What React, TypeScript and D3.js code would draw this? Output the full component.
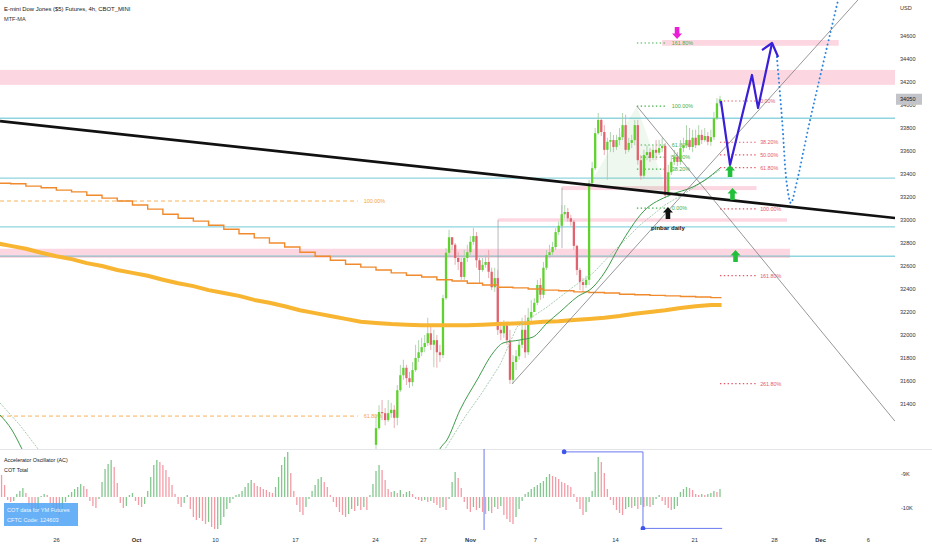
import { useEffect, useRef } from "react";
import * as d3 from "d3";

// 4h bars, bar 0 = Oct 24 session. open of each bar = previous close
const firstOpen = 31045;
const closes = [
  31190, 31330, 31320, 31260, 31320, 31350, 31280, 31520, 31650, 31715,
  31625, 31590, 31695, 31800, 31850, 31895, 31930, 32015, 31915, 31955,
  31850, 31825, 32320, 32715, 32850, 32785, 32670, 32635, 32505, 32670,
  32720, 32810, 32860, 32650, 32565, 32610, 32635, 32550, 32415, 32495,
  32045, 32015, 32085, 31955, 31610, 31765, 31815, 31915, 32045, 31850,
  32150, 32200, 32280, 32435, 32350, 32585, 32695, 32720, 32765, 32895,
  32950, 33050, 33070, 33015, 32985, 32775, 32565, 32460, 32435, 32480,
  33320, 33450, 33755, 33870, 33765, 33610, 33680, 33695, 33635, 33695,
  33720, 33825, 33610, 33670, 33695, 33825, 33520, 33385, 33565, 33590,
  33540, 33610, 33585, 33625, 33645, 33215, 33415, 33505, 33550, 33505,
  33625, 33650, 33695, 33635, 33715, 33650, 33740, 33695, 33730, 33680,
  33720, 33885, 34015, 34050,
];
const highs = [
  31305, 31390, 31435, 31365, 31435, 31410, 31390, 31565, 31740, 31785,
  31740, 31680, 31765, 31915, 31955, 31975, 32000, 32150, 32085, 32045,
  32000, 31915, 32350, 32755, 32915, 32845, 32800, 32720, 32670, 32740,
  32785, 32860, 32930, 32895, 32670, 32670, 32695, 32740, 32585, 32585,
  32565, 32115, 32130, 32115, 32045, 31825, 31870, 31955, 32150, 32175,
  32235, 32305, 32320, 32480, 32495, 32635, 32740, 32785, 32810, 32930,
  32985, 33130, 33130, 33105, 33045, 33000, 32785, 32585, 32495, 32515,
  33350, 33505, 33800, 33930, 33885, 33825, 33715, 33765, 33740, 33740,
  33800, 33930, 33915, 33715, 33740, 33870, 33870, 33565, 33610, 33650,
  33625, 33650, 33695, 33695, 33715, 33670, 33480, 33565, 33610, 33590,
  33695, 33715, 33825, 33800, 33785, 33785, 33825, 33785, 33800, 33765,
  33785, 33940, 34060, 34080,
];
const lows = [
  31000, 31175, 31260, 31215, 31245, 31280, 31190, 31215, 31505, 31610,
  31565, 31540, 31555, 31680, 31765, 31815, 31850, 31905, 31870, 31720,
  31715, 31765, 31800, 32305, 32685, 32740, 32610, 32565, 32480, 32480,
  32635, 32695, 32785, 32585, 32450, 32550, 32585, 32495, 32390, 32375,
  32000, 31955, 31975, 31915, 31575, 31575, 31695, 31785, 31885, 31800,
  31825, 32115, 32200, 32260, 32305, 32320, 32565, 32670, 32695, 32740,
  32870, 32930, 33015, 32985, 32950, 32740, 32520, 32390, 32375, 32410,
  32435, 33315, 33435, 33740, 33730, 33565, 33350, 33590, 33590, 33610,
  33650, 33695, 33575, 33590, 33625, 33650, 33480, 33350, 33365, 33520,
  33505, 33520, 33520, 33565, 33590, 33190, 33200, 33390, 33480, 33470,
  33480, 33590, 33625, 33610, 33590, 33625, 33650, 33660, 33680, 33650,
  33645, 33695, 33870, 33990,
];

// MTF-MA (daily steps), one value every 5 bars from bar -125
const mtfStart = -125;
const mtfStep = 5;
const maOrange = [
  33320, 33315, 33295, 33280, 33260, 33245, 33215, 33190, 33165, 33130,
  33095, 33050, 33015, 32990, 32955, 32920, 32880, 32845, 32800, 32765,
  32720, 32685, 32650, 32615, 32590, 32565, 32540, 32520, 32505, 32480,
  32470, 32450, 32435, 32415, 32410, 32400, 32390, 32385, 32375, 32370,
  32365, 32355, 32350, 32345, 32340, 32335, 32330, 32325,
];
const maGold = [
  32800, 32775, 32750, 32715, 32685, 32660, 32625, 32600, 32565, 32540,
  32515, 32480, 32450, 32425, 32390, 32365, 32340, 32305, 32280, 32250,
  32215, 32190, 32165, 32140, 32115, 32105, 32095, 32090, 32085, 32085,
  32085, 32085, 32090, 32095, 32100, 32105, 32115, 32120, 32130, 32140,
  32150, 32165, 32185, 32200, 32215, 32235, 32250, 32260,
];

// 4h MAs, [bar, price] (visible parts only)
const maGreenLeft = [[-123.5, 31304], [-119.6, 31174], [-116.3, 31009], [-113, 30826]];
const maGreenRight = [
  [18.4, 30826], [21, 31009], [23.3, 31087], [27.6, 31348], [33.2, 31609], [38.4, 31843],
  [41.7, 31930], [47.3, 31957], [51.6, 31983], [56.2, 32104], [60.4, 32200], [66, 32330],
  [71.3, 32417], [75.2, 32548], [80.2, 32783], [87.7, 33070], [96.6, 33217], [104.1, 33287],
  [108.1, 33348], [113, 33452],
];
const maLightLeft = [[-123.5, 31409], [-117, 31217], [-111, 31009], [-108.7, 30826]];
const maLightRight = [
  [18.4, 30826], [22.7, 31009], [29.2, 31287], [34.8, 31496], [40.7, 31739], [46.3, 32070],
  [56.2, 32243], [64.7, 32417], [71.3, 32539], [78.5, 32739], [86.7, 32956], [94.9, 33130],
  [103.2, 33261], [113, 33435],
];

// Accelerator Oscillator, one value per bar from bar -123
const acStart = -123;
const acValues = [
  220, 120, -30, -50, -40, 30, 60, 90, 40, -80,
  -130, -150, -120, 10, 30, 20, -60, -120, -160, -180,
  -140, -50, 20, 50, 80, 100, 130, 110, 80, -40,
  -90, -110, -20, 150, 280, 330, 370, 300, 140, -60,
  -110, -90, 20, 40, -40, -80, -100, -70, 60, 200,
  320, 370, 350, 320, 270, 200, 120, 30, -70, -100,
  -60, 20, -120, -200, -230, -210, -240, -270, -250, -300,
  -320, -320, -280, -200, -120, -60, -20, 20, 30, 60,
  100, 140, 170, 140, 110, 100, 80, 70, 50, 40,
  100, 200, 320, 400, 450, 240, 60, -80, -150, -180,
  -100, -20, 60, 120, 180, 200, 150, 100, 20, -50,
  -100, -150, -180, -200, -170, -120, -140, -90, -130, -100,
  -130, 20, 130, 260, 320, 270, 170, 80, 50, 60,
  40, 70, 30, 50, 60, 30, -20, -30, -40, -30,
  -50, -40, -60, -80, -110, -100, -130, -20, 150, 250,
  190, 90, -50, -120, -150, -100, -130, -110, -150, -170,
  -140, -160, -100, -120, -90, -180, -220, -250, -270, -200,
  -120, -40, 30, 50, 80, 100, 120, 140, 160, 200,
  230, 210, 200, 180, 150, 140, 120, 100, 30, -50,
  -120, -180, -150, -50, 60, 250, 400, 350, 240, 80,
  -30, -80, -130, -160, -180, -120, -100, -110, -90, -120,
  -80, -100, -90, -100, -80, -20, 20, -40, -80, -110,
  -130, -120, -90, 50, 80, 100, 90, 70, 30, 20,
  30, 20, 30, 40, 60, 50, 80,
];

// COT Total (weekly steps), [bar, value]
const cotSteps = [[-125, -11000], [35.5, -8000], [61.8, -8350], [87.7, -10600], [113.7, -10600]];
const cotMarks = [[61.8, -8350], [87.7, -10600]];

// horizontal levels and zones
const cyanLevels = [33885, 33365, 32940, 32685];
const zones = [
  { b0: -125, b1: 171, top: 34305, bottom: 34175 },
  { b0: 94, b1: 152, top: 34565, bottom: 34515 },
  { b0: -125, b1: 136, top: 32750, bottom: 32670 },
  { b0: 61, b1: 125, top: 33295, bottom: 33260 },
  { b0: 40, b1: 135, top: 33015, bottom: 32985 },
];
const zoneEdges = [
  { b: 40.1, p0: 33000, p1: 32390 },
  { b: 61.1, p0: 33280, p1: 32755 },
];
const oldFib = [
  { price: 33165, label: "100.00%" },
  { price: 31295, label: "61.80%" },
];

// fib drawings
const fibGreen = { b0: 85.7, b1: 95.5, p0: 33104, p1: 33991 };
const fibGreenLevels = [1.618, 1, 0.618, 0.5, 0.382, 0];
const fibRed = { b0: 113, b1: 125.2, p0: 34035, p1: 33096 };
const fibRedLevels = [0, 0.382, 0.5, 0.618, 1, 1.618, 2.618];

// trend lines
const blackTrend = [[-123.5, 33860], [170.5, 33017]];
const channelUp = [[44.7, 31575], [158.3, 34913]];
const channelDown = [[85.7, 33990], [170.5, 31250]];
const triangle = [[70.3, 33322], [85.7, 33991], [95.9, 33217]];
const zigzag = [[113.3, 34035], [116.3, 33478], [123.5, 34261], [125.5, 33974], [130.1, 34539]];
const zigzagHead = [[126.8, 34478], [130.1, 34539], [132.1, 34417]];
const dottedPath = [[131.7, 34417], [133.4, 33870], [135, 33304], [136.3, 33148], [138, 33304], [142.6, 33870], [151.8, 34913]];

const greenArrows = [[116.3, 33478], [117.1, 33278], [118.1, 32739]];
const blackArrow = [95.9, 33113];
const magentaArrow = [98.9, 34574];

const priceTicks = d3.range(31400, 34601, 200);
const dateTicks = [
  { bar: -105.1, label: "26" }, { bar: -78.8, label: "Oct", month: true },
  { bar: -52.9, label: "10" }, { bar: -26.6, label: "17" }, { bar: -0.3, label: "24" },
  { bar: 15.4, label: "27" }, { bar: 30.9, label: "Nov", month: true }, { bar: 52.2, label: "7" },
  { bar: 78.5, label: "14" }, { bar: 104.5, label: "21" }, { bar: 130.7, label: "28" },
  { bar: 145.9, label: "Dec", month: true }, { bar: 161.6, label: "6" },
];

const FONT = "'Liberation Sans', Arial, sans-serif";

export default function App() {
  const ref = useRef<SVGSVGElement>(null);

  useEffect(() => {
    if (!ref.current) return;
    const svg = d3.select(ref.current);
    svg.selectAll("*").remove();

    const W = 932, H = 550;
    const paneR = 895;
    const mainBottom = 449;
    const oscTop = 449, oscBottom = 530;

    const x = d3.scaleLinear().domain([0, 113]).range([376, 720]);
    const y = d3.scaleLinear().domain([31400, 34600]).range([404, 36]);
    const yAc = d3.scaleLinear().domain([-300, 400]).range([527, 457]);
    const yCot = d3.scaleLinear().domain([-10000, -9000]).range([508, 474]);

    svg.append("rect").attr("width", W).attr("height", H).attr("fill", "#fff");

    const defs = svg.append("defs");
    defs.append("clipPath").attr("id", "mainClip")
      .append("rect").attr("x", 0).attr("y", 0).attr("width", paneR).attr("height", mainBottom);
    defs.append("clipPath").attr("id", "oscClip")
      .append("rect").attr("x", 0).attr("y", oscTop).attr("width", paneR).attr("height", oscBottom - oscTop);

    const main = svg.append("g").attr("clip-path", "url(#mainClip)");
    const line = d3.line<number[]>().x((d) => x(d[0])).y((d) => y(d[1]));

    // zones
    main.selectAll(".zone").data(zones).join("rect")
      .attr("x", (d) => x(d.b0)).attr("width", (d) => x(d.b1) - x(d.b0))
      .attr("y", (d) => y(d.top)).attr("height", (d) => y(d.bottom) - y(d.top))
      .attr("fill", "rgba(242,54,107,0.2)");

    // cyan levels
    main.selectAll(".cyan").data(cyanLevels).join("line")
      .attr("x1", 0).attr("x2", paneR).attr("y1", (d) => y(d)).attr("y2", (d) => y(d))
      .attr("stroke", "#8fd5e0").attr("stroke-width", 1.3);
    main.append("line")
      .attr("x1", 0).attr("x2", x(136)).attr("y1", y(32685)).attr("y2", y(32685))
      .attr("stroke", "#b9b9bf").attr("stroke-width", 1.2);

    main.selectAll(".edge").data(zoneEdges).join("line")
      .attr("x1", (d) => x(d.b)).attr("x2", (d) => x(d.b))
      .attr("y1", (d) => y(d.p0)).attr("y2", (d) => y(d.p1))
      .attr("stroke", "#9a9aa0").attr("stroke-width", 0.7);

    // old orange fib levels
    oldFib.forEach((f) => {
      main.append("line").attr("x1", 0).attr("x2", x(-6)).attr("y1", y(f.price)).attr("y2", y(f.price))
        .attr("stroke", "#f7b25c").attr("stroke-width", 1).attr("stroke-dasharray", "4,3");
      main.append("text").attr("x", x(-4)).attr("y", y(f.price) + 2).attr("font-size", 5.4)
        .attr("font-family", FONT).attr("fill", "#f5a442").text(f.label);
    });

    // triangle shading
    main.append("path").attr("d", line(triangle) + "Z").attr("fill", "rgba(76,175,80,0.09)");

    // fib levels
    fibGreenLevels.forEach((r) => {
      const p = fibGreen.p0 + r * (fibGreen.p1 - fibGreen.p0);
      main.append("line").attr("x1", x(fibGreen.b0)).attr("x2", x(fibGreen.b1))
        .attr("y1", y(p)).attr("y2", y(p)).attr("stroke", "#3fae48").attr("stroke-width", 1.2)
        .attr("stroke-dasharray", "1.4,2.4");
      main.append("text").attr("x", x(fibGreen.b1) + 5).attr("y", y(p) + 2).attr("font-size", 5.4)
        .attr("font-family", FONT).attr("fill", "#43b04b").text(`${(r * 100).toFixed(2)}%`);
    });
    fibRedLevels.forEach((r) => {
      const p = fibRed.p0 + r * (fibRed.p1 - fibRed.p0);
      main.append("line").attr("x1", x(fibRed.b0)).attr("x2", x(fibRed.b1))
        .attr("y1", y(p)).attr("y2", y(p)).attr("stroke", "#e45a6b").attr("stroke-width", 1.2)
        .attr("stroke-dasharray", "1.4,2.4");
      main.append("text").attr("x", x(fibRed.b1) + 3).attr("y", y(p) + 2).attr("font-size", 5.4)
        .attr("font-family", FONT).attr("fill", "#e45a6b").text(`${(r * 100).toFixed(2)}%`);
    });

    // candles
    const bars = closes.map((c, i) => {
      const o = i === 0 ? firstOpen : closes[i - 1];
      return { i, o, c, h: Math.max(highs[i], o, c), l: Math.min(lows[i], o, c) };
    });
    const cg = main.append("g");
    cg.selectAll(".wick").data(bars).join("line")
      .attr("x1", (d) => x(d.i)).attr("x2", (d) => x(d.i))
      .attr("y1", (d) => y(d.h)).attr("y2", (d) => y(d.l))
      .attr("stroke", (d) => (d.c >= d.o ? "#a8cfa8" : "#e5a5aa")).attr("stroke-width", 0.9);
    cg.selectAll(".body").data(bars).join("rect")
      .attr("x", (d) => x(d.i) - 1.15).attr("width", 2.3)
      .attr("y", (d) => y(Math.max(d.o, d.c)))
      .attr("height", (d) => Math.max(1, Math.abs(y(d.o) - y(d.c))))
      .attr("fill", (d) => (d.c >= d.o ? "#5fd22e" : "#e0636f"));

    // moving averages
    const stepLine = d3.line<number[]>().x((d) => x(d[0])).y((d) => y(d[1])).curve(d3.curveStepAfter);
    const mtfPts = (vals: number[]) => {
      const pts = vals.map((v, i) => [mtfStart + i * mtfStep, v]);
      pts.push([113.5, vals[vals.length - 1]]);
      return pts;
    };
    main.append("path").attr("d", line(mtfPts(maGold))).attr("fill", "none")
      .attr("stroke", "#f7b532").attr("stroke-width", 4).attr("stroke-linejoin", "round");
    main.append("path").attr("d", stepLine(mtfPts(maOrange))).attr("fill", "none")
      .attr("stroke", "#f08a2c").attr("stroke-width", 1.4);
    [maLightLeft, maLightRight].forEach((seg) =>
      main.append("path").attr("d", line(seg)).attr("fill", "none")
        .attr("stroke", "#a9cdb2").attr("stroke-width", 1).attr("stroke-dasharray", "2,1.2"));
    const smooth = d3.line<number[]>().x((d) => x(d[0])).y((d) => y(d[1])).curve(d3.curveMonotoneX);
    [maGreenLeft, maGreenRight].forEach((seg) =>
      main.append("path").attr("d", smooth(seg)).attr("fill", "none")
        .attr("stroke", "#3d9b49").attr("stroke-width", 1));

    // drawings
    [channelUp, channelDown].forEach((seg) =>
      main.append("path").attr("d", line(seg)).attr("fill", "none")
        .attr("stroke", "#7d7d82").attr("stroke-width", 0.8));
    main.append("path").attr("d", line(blackTrend)).attr("stroke", "#111").attr("stroke-width", 2.6);

    main.append("path")
      .attr("d", d3.line<number[]>().x((d) => x(d[0])).y((d) => y(d[1])).curve(d3.curveCatmullRom)(dottedPath))
      .attr("fill", "none").attr("stroke", "#2c84e0").attr("stroke-width", 2)
      .attr("stroke-linecap", "round").attr("stroke-dasharray", "0.1,4.2");
    main.append("path").attr("d", line(zigzag)).attr("fill", "none")
      .attr("stroke", "#3a1fd9").attr("stroke-width", 2.2).attr("stroke-linejoin", "round");
    main.append("path").attr("d", line(zigzagHead)).attr("fill", "none")
      .attr("stroke", "#3a1fd9").attr("stroke-width", 2.2).attr("stroke-linejoin", "round");

    const arrowUp = (cx: number, ty: number) =>
      `M${cx},${ty} L${cx + 5},${ty + 5.5} L${cx + 2.3},${ty + 5.5} L${cx + 2.3},${ty + 12} L${cx - 2.3},${ty + 12} L${cx - 2.3},${ty + 5.5} L${cx - 5},${ty + 5.5} Z`;
    const arrowDown = (cx: number, ty: number) =>
      `M${cx},${ty} L${cx + 5},${ty - 5.5} L${cx + 2.3},${ty - 5.5} L${cx + 2.3},${ty - 12} L${cx - 2.3},${ty - 12} L${cx - 2.3},${ty - 5.5} L${cx - 5},${ty - 5.5} Z`;
    greenArrows.forEach((a) =>
      main.append("path").attr("d", arrowUp(x(a[0]), y(a[1]))).attr("fill", "#22c03a"));
    main.append("path").attr("d", arrowUp(x(blackArrow[0]), y(blackArrow[1]))).attr("fill", "#111");
    main.append("text").attr("x", x(blackArrow[0])).attr("y", y(blackArrow[1]) + 23)
      .attr("text-anchor", "middle").attr("font-size", 6).attr("font-weight", "bold")
      .attr("font-family", FONT).attr("fill", "#131722").text("pinbar daily");
    main.append("path").attr("d", arrowDown(x(magentaArrow[0]), y(magentaArrow[1]))).attr("fill", "#ea1fd6");

    // pane separator
    svg.append("line").attr("x1", 0).attr("x2", W).attr("y1", mainBottom + 0.5).attr("y2", mainBottom + 0.5)
      .attr("stroke", "#e3e5ea").attr("stroke-width", 1);

    // oscillator pane
    const osc = svg.append("g").attr("clip-path", "url(#oscClip)");
    const acBars = acValues.map((v, i) => ({ b: acStart + i, v, up: i === 0 ? false : v >= acValues[i - 1] }));
    osc.selectAll(".ac").data(acBars).join("rect")
      .attr("x", (d) => x(d.b) - 0.65).attr("width", 1.3)
      .attr("y", (d) => Math.min(yAc(d.v), yAc(0)))
      .attr("height", (d) => Math.abs(yAc(d.v) - yAc(0)))
      .attr("fill", (d) => (d.up ? "#84c78e" : "#f39ca6"));

    osc.append("path")
      .attr("d", d3.line<number[]>().x((d) => x(d[0])).y((d) => yCot(d[1])).curve(d3.curveStepAfter)(cotSteps))
      .attr("fill", "none").attr("stroke", "#6a78f0").attr("stroke-width", 1);
    osc.selectAll(".cotm").data(cotMarks).join("circle")
      .attr("cx", (d) => x(d[0])).attr("cy", (d) => yCot(d[1])).attr("r", 2.4).attr("fill", "#3f55ee");

    svg.append("rect").attr("x", 4).attr("y", 503).attr("width", 74).attr("height", 23)
      .attr("fill", "#4ea3f4").attr("opacity", 0.85);
    svg.append("text").attr("x", 7).attr("y", 512).attr("font-size", 5.6).attr("font-family", FONT)
      .attr("fill", "#eef6ff").text("COT data for YM Futures");
    svg.append("text").attr("x", 7).attr("y", 522).attr("font-size", 5.6).attr("font-family", FONT)
      .attr("fill", "#eef6ff").text("CFTC Code: 124603");

    svg.append("text").attr("x", 4).attr("y", 462).attr("font-size", 5.4).attr("font-family", FONT)
      .attr("fill", "#131722").text("Accelerator Oscillator (AC)");
    svg.append("text").attr("x", 4).attr("y", 472).attr("font-size", 5.4).attr("font-family", FONT)
      .attr("fill", "#131722").text("COT Total");

    // header
    svg.append("text").attr("x", 4).attr("y", 11).attr("font-size", 5.9).attr("font-family", FONT)
      .attr("fill", "#131722").text("E-mini Dow Jones ($5) Futures, 4h, CBOT_MINI");
    svg.append("text").attr("x", 4).attr("y", 21).attr("font-size", 5.6).attr("font-family", FONT)
      .attr("fill", "#333").text("MTF-MA");

    // price axis
    svg.append("g").attr("transform", `translate(${paneR + 2},0)`)
      .call(d3.axisRight(y).tickValues(priceTicks).tickSize(0).tickPadding(3).tickFormat(d3.format("d")))
      .call((g) => g.select(".domain").remove())
      .attr("font-size", 5.6).attr("font-family", FONT)
      .selectAll("text").attr("fill", "#333");
    svg.append("text").attr("x", paneR + 5).attr("y", 10).attr("font-size", 5.6).attr("font-family", FONT)
      .attr("fill", "#333").text("USD");
    const last = closes[closes.length - 1];
    svg.append("rect").attr("x", paneR + 1).attr("y", y(last) - 5.5).attr("width", 26).attr("height", 11)
      .attr("fill", "#c2c4c9");
    svg.append("text").attr("x", paneR + 5).attr("y", y(last) + 2).attr("font-size", 5.6)
      .attr("font-family", FONT).attr("fill", "#131722").text(d3.format("d")(last));

    // oscillator axis
    svg.append("g").attr("transform", `translate(${paneR + 2},0)`)
      .call(d3.axisRight(yCot).tickValues([-10000, -9000]).tickSize(0).tickPadding(4)
        .tickFormat((d) => `${(+d / 1000).toFixed(0)}K`))
      .call((g) => g.select(".domain").remove())
      .attr("font-size", 5.6).attr("font-family", FONT)
      .selectAll("text").attr("fill", "#333");

    // date axis
    const xAxis = svg.append("g").attr("transform", `translate(0,${oscBottom})`)
      .call(d3.axisBottom(x).tickValues(dateTicks.map((d) => d.bar)).tickSize(0).tickPadding(8)
        .tickFormat((_, i) => dateTicks[i].label))
      .attr("font-size", 5.8).attr("font-family", FONT);
    xAxis.select(".domain").remove();
    xAxis.selectAll("text").attr("fill", "#333")
      .attr("font-weight", (_, i) => (dateTicks[i].month ? "bold" : "normal"));
  }, []);

  return (
    <svg ref={ref} width={932} height={550} style={{ position: "absolute", left: 0, top: 0 }} />
  );
}
